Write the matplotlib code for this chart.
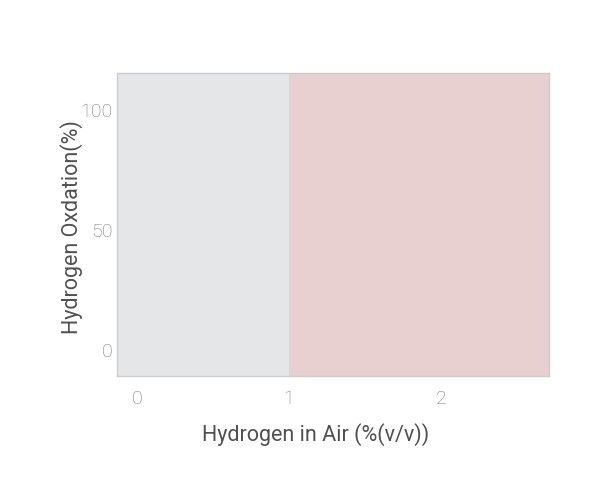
import matplotlib
matplotlib.use("Agg")
import matplotlib.pyplot as plt

# Data
regions_x = [(-0.13, 1.0), (1.0, 2.71)]
region_colors = ["#e5e6e8", "#e8d0d1"]
x_ticks = [0, 1, 2]
y_ticks = [0, 50, 100]
x_label = "Hydrogen in Air (%(v/v))"
y_label = "Hydrogen Oxdation(%)"

fig = plt.figure(figsize=(6, 5), dpi=100)
ax = fig.add_axes([117/600, 1-376/500, (549-117)/600, (376-73)/500])
for (x0, x1), c in zip(regions_x, region_colors):
    ax.axvspan(x0, x1, color=c, lw=0)
ax.axvline(1.0, color="#d8d8d8", lw=0.8)
ax.set_xlim(-0.13, 2.71)
ax.set_ylim(-10.8, 115.4)
ax.set_xticks(x_ticks)
ax.set_yticks(y_ticks)
tick_kw = dict(fontfamily="Roboto", fontweight="light", fontsize=14, color="#7a7a7a")
ax.set_xticklabels([str(v) for v in x_ticks], **tick_kw)
ax.set_yticklabels([str(v) for v in y_ticks], **tick_kw)
ax.tick_params(axis="x", length=0, pad=10)
ax.tick_params(axis="y", length=0, pad=3)
for s in ax.spines.values():
    s.set_color("#cccccc")
    s.set_linewidth(1.0)
lab_kw = dict(fontsize=15.5, fontfamily="Roboto", color="#505050")
fig.text(316/600, 1-435/500, x_label, ha="center", va="center", **lab_kw)
fig.text(72/600, 1-227/500, y_label, ha="center", va="center", rotation=90, **lab_kw)
fig.savefig("out.png", dpi=100)
